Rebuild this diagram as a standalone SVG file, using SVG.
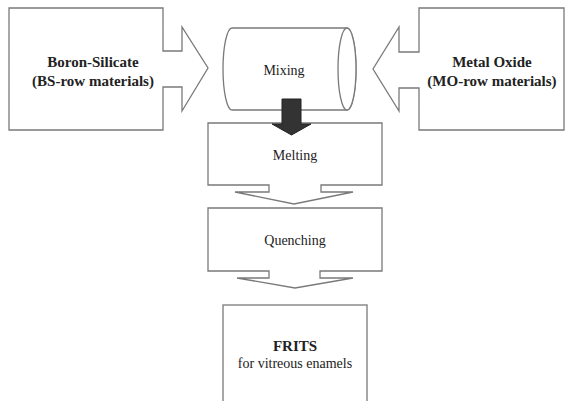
<svg xmlns="http://www.w3.org/2000/svg" width="566" height="401" viewBox="0 0 566 401">
<style>
.s{fill:#fff;stroke:#7a7a7a;stroke-width:1.3;stroke-linejoin:miter}
.t{font-family:'Liberation Serif','DejaVu Serif',serif;fill:#222;text-anchor:middle}
.b{font-weight:bold;font-size:15px}
.r{font-size:14px}
</style>
<rect width="566" height="401" fill="#fff"/>
<g id="boron-silicate">
<polygon class="s" points="9,8 163,8 163,51 182,51 182,27 208,68 182,111 182,87 163,87 163,130 9,130"/>
<text class="t b" x="93" y="67">Boron-Silicate</text>
<text class="t b" x="93" y="86">(BS-row materials)</text>
</g>
<g id="metal-oxide">
<polygon class="s" points="564,8 419,8 419,52 399,52 399,27 373,69 399,111 399,88 419,88 419,130 564,130"/>
<text class="t b" x="492" y="67">Metal Oxide</text>
<text class="t b" x="492" y="86">(MO-row materials)</text>
</g>
<g id="mixing">
<path class="s" d="M232,28 L347,28 A9,41 0 0 1 347,110 L232,110 A9,41 0 0 1 232,28 Z"/>
<ellipse class="s" cx="347" cy="69" rx="9" ry="41"/>
<text class="t r" x="284" y="75">Mixing</text>
</g>
<g id="melting">
<polygon class="s" points="208,123 382,123 382,185 321,185 321,192 353,192 294,204 235,192 269,192 269,185 208,185"/>
<text class="t r" x="295" y="160">Melting</text>
</g>
<g id="quenching">
<polygon class="s" points="208,208 382,208 382,271 320,271 320,278 353,278 295,288 237,278 269,278 269,271 208,271"/>
<text class="t r" x="295" y="245">Quenching</text>
</g>
<g id="frits">
<rect class="s" x="223" y="305" width="144" height="110"/>
<text class="t b" x="295" y="351">FRITS</text>
<text class="t r" x="295" y="368">for vitreous enamels</text>
</g>
<g id="connectors">
<polygon points="282,99 301,99 301,124 311,124 291.5,135 272,124 282,124" fill="#333" stroke="#222" stroke-width="1"/>
</g>
</svg>
